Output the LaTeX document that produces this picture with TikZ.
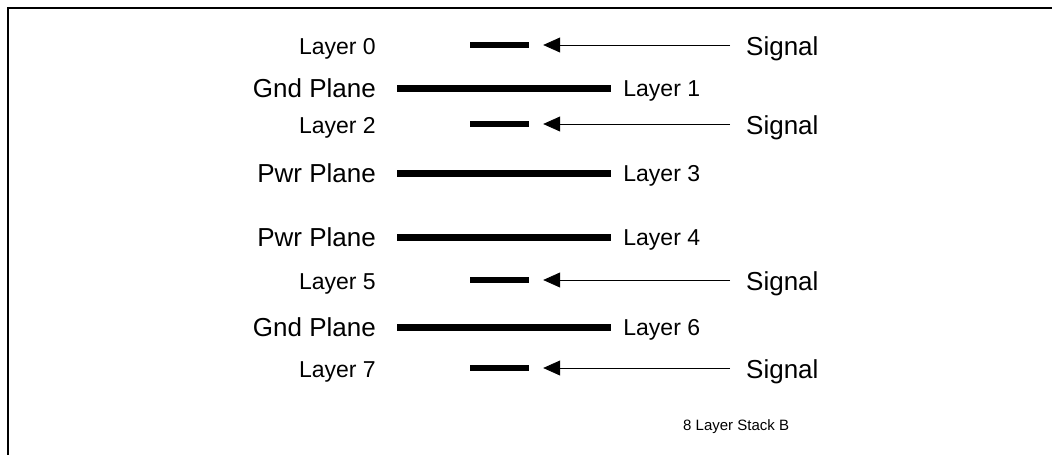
\documentclass[tikz,border=0pt]{standalone}
\usepackage{fontspec}
\setmainfont{Liberation Sans}
\usetikzlibrary{positioning,arrows.meta}
\tikzset{
    lbl/.style={inner sep=0pt, font=\fontsize{23}{27}\selectfont},
    big/.style={inner sep=0pt, font=\fontsize{26}{30}\selectfont},
    small/.style={inner sep=0pt, font=\fontsize{15}{18}\selectfont},
    plane/.style={rectangle, fill=black, inner sep=0pt, minimum width=214pt, minimum height=7pt},
    trace/.style={rectangle, fill=black, inner sep=0pt, minimum width=59pt, minimum height=6pt},
    sigarrow/.style={-{Triangle[length=17pt,width=15pt]}, line width=0.8pt}
}

\begin{document}
\begin{tikzpicture}[x=1pt,y=-1pt]
        \useasboundingbox (0,0) rectangle (1052,455);
        % Cornice
        \draw[line width=2.5pt] (8,455) -- (8,8) -- (1052,8);

        % Strati di segnale
        \foreach \n/\y in {0/45, 2/124, 5/280, 7/368}
        {
            \node[trace] (b\n) at (499.5,\y) {};
            \node[lbl, anchor=base east] (l\n) at (376,\y+9) {Layer \n};
            \node[big, anchor=base west] (s\n) at (746,\y+10) {Signal};
            \draw[sigarrow] ([xshift=-16pt]s\n.west |- b\n) -- ([xshift=14pt]b\n.east);
        }

        % Piani di alimentazione e massa
        \foreach \n/\y/\t in {1/88/Gnd, 3/173/Pwr, 4/237/Pwr, 6/327/Gnd}
        {
            \node[plane] (b\n) at (504,\y) {};
            \node[big, anchor=base east] (p\n) at (376,\y+9) {\t{} Plane};
            \node[lbl, anchor=base west] (l\n) at ([xshift=12pt]b\n.east |- 0,\y+8) {Layer \n};
        }

        \node[small, anchor=west] (title) at (683,427) {8 Layer Stack B};
    \end{tikzpicture}
\end{document}
